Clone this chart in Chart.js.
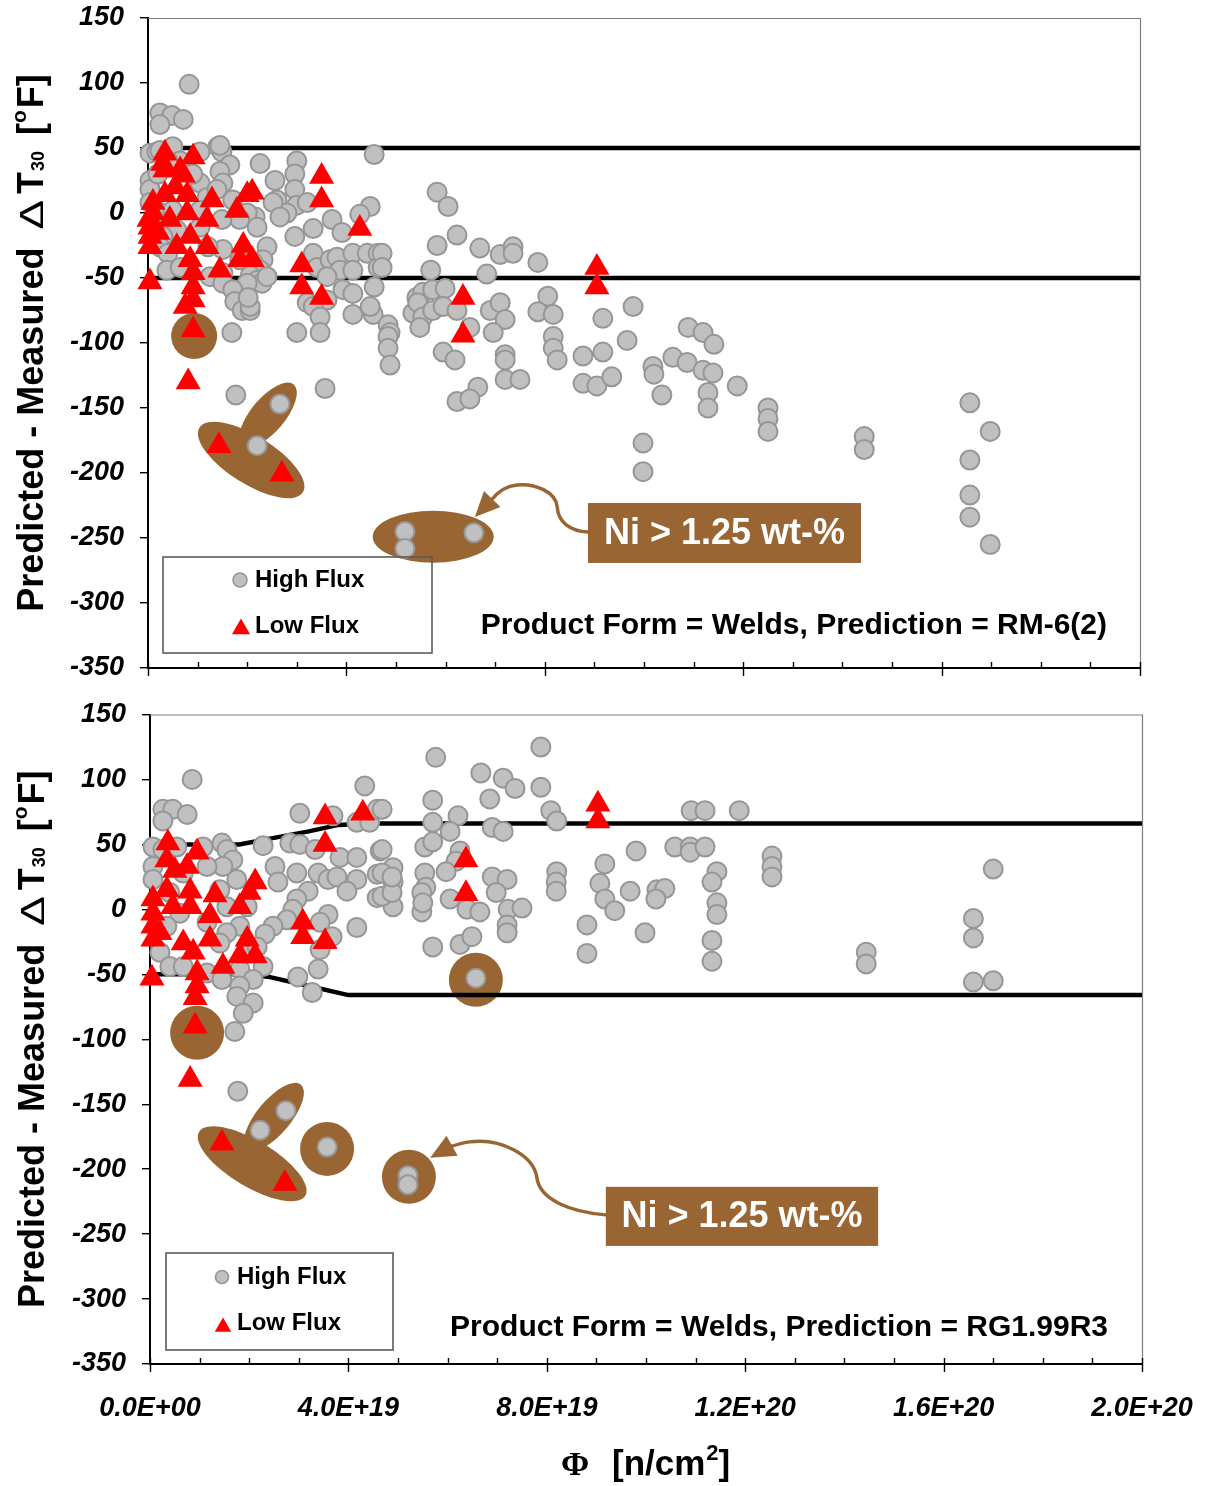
<!DOCTYPE html>
<html>
<head>
<meta charset="utf-8">
<title>Predicted - Measured ΔT30 vs fluence, welds</title>
<script src="https://cdn.jsdelivr.net/npm/chart.js@4.4.1/dist/chart.umd.min.js"></script>
<style>
  html, body { margin: 0; padding: 0; background: #ffffff; }
  #wrap { position: relative; width: 1206px; height: 1486px; }
  #wrap canvas { position: absolute; left: 0; display: block; }
</style>
</head>
<body>
<div id="wrap">
  <canvas id="rm6" width="1206" height="700" style="top:0px"></canvas>
  <canvas id="rg199" width="1206" height="786" style="top:700px"></canvas>
</div>
<script>
// Fluence in units of 1E19 n/cm^2, residual (predicted - measured) in degF.

// --- Prediction = RM-6(2) ---
const rm6HighFlux = [
  [0.24,77],[0.48,75],[0.24,68],[0.71,72],[0.83,99],
  [0.04,46],[0.18,47],[0.24,48],[0.50,51],[1.05,47],[1.41,51],[1.49,47],[1.45,52],[1.65,37],[2.26,38],
  [2.56,25],[3.00,40],[2.96,30],[4.56,45],
  [1.45,32],[1.51,23],[1.05,23],[1.19,12],[1.39,18],[0.04,25],[0.04,18],[0.04,8],[0.18,2],[0.50,2],
  [1.05,2],[2.60,10],[2.96,18],[3.00,6],[2.80,0],[3.21,8],[2.52,8],[2.66,-3],[2.16,-3],[4.48,5],
  [4.27,-1],[3.71,-5],[1.71,10],[2.00,0],[0.65,40],[0.40,40],[0.90,30],[0.20,30],
  [2.20,-11],[1.85,-5],[1.49,-5],[1.05,-11],[0.58,-13],[0.30,-18],[0.24,-26],[3.33,-12],[3.91,-15],
  [2.96,-18],[2.40,-26],[2.32,-36],[1.85,-36],[1.51,-28],[1.21,-26],[0.40,-31],[0.38,-44],[0.65,-42],
  [3.33,-31],[3.41,-42],[3.67,-36],[3.81,-34],[4.13,-31],[4.42,-31],[4.64,-31],[3.87,-44],[4.13,-44],
  [4.64,-42],[2.12,-38],[2.26,-44],[1.51,-46],[1.25,-49],[2.06,-48],[4.72,-31],[4.72,-42],
  [2.20,-52],[2.30,-54],[1.51,-54],[2.00,-54],[1.71,-59],[1.75,-68],[1.90,-75],[2.06,-75],[2.06,-72],
  [2.02,-65],[2.40,-49],[3.61,-49],[3.93,-59],[4.56,-57],[4.13,-62],[3.61,-67],[3.21,-69],[3.33,-72],
  [3.47,-80],[4.13,-78],[4.54,-78],[4.48,-72],[4.84,-86],[4.88,-92],[4.84,-95],[4.84,-104],[4.88,-117],
  [5.42,-65],[5.34,-77],[1.69,-92],[3.00,-92],[3.47,-92],
  [1.77,-140],[2.66,-147],[2.20,-179],[3.57,-135],[5.18,-245],[5.18,-258],[6.57,-246],
  [5.83,16],[6.05,5],[6.23,-17],[5.83,-25],[6.69,-27],[7.10,-32],[7.36,-26],[7.36,-31],[7.86,-38],
  [5.70,-44],[6.83,-47],[5.54,-61],[5.74,-59],[5.99,-58],[5.44,-69],[5.54,-80],[5.74,-75],[5.48,-88],
  [5.95,-72],[6.23,-75],[6.90,-75],[7.10,-69],[7.20,-82],[6.96,-92],[6.49,-88],[5.95,-107],[6.19,-113],
  [7.20,-109],[7.20,-113],[6.65,-134],[6.23,-145],[6.49,-143],[7.20,-128],[7.50,-128],[8.06,-64],
  [7.86,-76],[8.17,-78],[8.17,-95],[8.17,-104],[8.25,-113],[8.77,-110],[9.17,-107],[9.17,-81],
  [8.77,-131],[9.05,-133],[9.35,-126],[9.78,-72],[9.66,-98],[10.36,-140],[10.18,-118],[10.20,-124],
  [10.58,-111],[10.89,-88],[11.19,-92],[11.41,-101],[10.87,-115],[11.19,-121],[11.39,-123],
  [11.29,-138],[11.29,-150],[11.88,-133],[12.50,-150],[12.50,-158],[12.50,-168],[9.98,-177],
  [9.98,-199],[14.44,-172],[14.44,-182],[16.57,-146],[16.57,-190],[16.57,-217],[16.57,-234],
  [16.98,-168],[16.98,-255]
];
const rm6LowFlux = [
  [0.34,46],[0.91,43],[0.34,33],[0.65,33],[0.71,29],[0.30,38],[0.55,20],
  [3.50,28],[3.50,10],[4.27,-12],
  [0.34,14],[0.79,14],[1.29,10],[2.10,16],[2.00,14],[1.79,2],
  [0.10,8],[0.10,0],[0.02,-5],[0.04,-11],[0.04,-18],[0.04,-26],[0.20,-15],
  [0.44,-5],[0.79,0],[1.19,-5],[0.85,-18],[0.58,-26],[1.19,-26],[0.85,-36],
  [1.45,-44],[1.92,-25],[1.85,-36],[2.10,-36],
  [0.91,-46],[0.91,-57],[0.91,-67],[0.75,-72],[0.91,-90],[0.04,-53],
  [3.10,-40],[3.10,-57],[3.50,-65],
  [0.81,-130],[1.43,-179],[2.70,-201],
  [9.05,-42],[9.05,-57],[6.35,-65],[6.35,-94]
];
const rm6UpperBound = [[0,50],[20,50]];
const rm6LowerBound = [[0,-50],[20,-50]];

// --- Prediction = RG1.99R3 ---
const rg199HighFlux = [
  [0.85,100],[0.26,77],[0.46,77],[0.75,73],[0.26,68],
  [0.06,48],[0.26,46],[0.54,48],[1.07,48],[1.45,51],[1.55,46],[1.67,38],[1.47,33],[2.28,49],[2.82,51],
  [3.02,50],[3.33,46],[3.02,74],[3.69,72],[4.17,67],[4.43,67],[4.58,77],[4.33,95],[4.68,77],
  [2.52,33],[2.58,21],[2.96,28],[3.19,14],[2.96,8],[3.39,28],[3.59,23],[3.77,25],[3.83,40],[4.17,40],
  [4.64,45],[4.17,23],[3.97,14],[4.58,27],[4.90,32],[4.90,21],[4.58,9],[4.90,2],[4.68,46],[4.68,28],
  [4.68,10],[4.88,13],
  [0.06,33],[0.06,23],[0.40,13],[0.67,28],[1.15,33],[1.75,23],[1.41,15],[1.55,2],[1.96,2],[0.60,-3],
  [2.88,0],[2.76,-8],
  [3.59,-4],[3.43,-10],[3.67,-21],[3.43,-31],[3.39,-46],[2.98,-52],[3.27,-64],[4.17,-14],
  [2.48,-13],[2.32,-19],[1.81,-13],[1.55,-18],[1.41,-26],[1.15,-10],[0.34,-13],[0.20,-33],[0.40,-44],
  [0.67,-44],[1.15,-49],[1.45,-54],[1.81,-46],[2.06,-29],[2.16,-29],[2.28,-44],[2.08,-54],[1.81,-59],
  [1.75,-67],[2.08,-72],[1.88,-80],[1.71,-94],
  [1.77,-140],[2.74,-155],[2.22,-170],[3.57,-183],[5.20,-205],[5.20,-212],[6.57,-53],
  [5.76,117],[7.88,125],[6.67,105],[7.12,101],[7.36,93],[7.88,94],[5.70,84],[6.85,85],[8.08,76],
  [8.20,68],[6.21,72],[5.70,67],[6.05,60],[6.90,63],[7.12,60],[5.54,48],[5.70,52],[6.25,45],[6.17,37],
  [5.97,29],[5.54,28],[5.56,17],[5.48,-2],[6.05,8],[6.39,0],[6.65,-2],[6.90,25],[7.20,23],[6.98,13],
  [7.22,0],[7.50,1],[7.20,-12],[7.20,-18],[5.70,-29],[6.25,-27],[6.49,-21],
  [8.20,29],[8.19,21],[8.19,14],[8.81,-12],[8.81,-34],[9.17,35],[9.07,20],[9.17,8],[9.37,-1],[9.80,45],
  [9.68,14],[9.98,-18],[10.22,15],[10.38,16],[10.20,8],[10.58,48],[10.89,48],[10.89,44],[11.19,48],
  [10.91,76],[11.19,76],[11.88,76],[11.43,29],[11.33,21],[11.43,5],[11.43,-4],[11.33,-24],[11.33,-40],
  [12.54,41],[12.54,33],[12.54,25],[14.44,-33],[14.44,-42],[16.60,-7],[16.60,-22],[16.60,-56],
  [17.00,31],[17.00,-55],
  [4.88,25],[5.48,13],[5.50,5]
];
const rg199LowFlux = [
  [0.36,51],[0.95,44],[0.34,38],[0.75,33],[0.50,30],[0.34,15],[0.81,14],[1.31,11],[2.12,21],[2.00,13],
  [1.81,2],[1.21,-5],
  [0.06,8],[0.06,-3],[0.06,-13],[0.06,-23],[0.20,-18],[0.46,2],[0.81,2],[0.67,-26],[1.21,-23],[0.87,-33],
  [1.96,-23],[1.81,-36],[2.12,-36],[1.47,-44],[0.95,-49],[0.95,-59],[0.91,-68],[0.91,-90],[0.81,-131],
  [0.04,-53],
  [3.08,-10],[3.08,-21],[3.53,-25],[3.53,71],[3.53,50],[4.29,74],
  [1.45,-180],[2.72,-211],[9.03,81],[9.03,68],[6.37,38],[6.37,12]
];
const rg199UpperBound = [[0,50],[1.8,50],[2.5,55],[3.2,60],[3.8,65],[4.4,66],[20,66]];
const rg199LowerBound = [[0,-50],[2.0,-50],[2.4,-52],[3.2,-59],[4.0,-66],[20,-66]];

// Axis tick labels
const fluenceTickLabels = ['0.0E+00', '4.0E+19', '8.0E+19', '1.2E+20', '1.6E+20', '2.0E+20'];
const residualTickValues = [-350, -300, -250, -200, -150, -100, -50, 0, 50, 100, 150];

const FONT = "'Liberation Sans', Arial, Helvetica, sans-serif";
const BROWN = '#996633';

const toXY = arr => arr.map(([x, y]) => ({ x, y }));

// Callout shapes, anchored in data units (fluence 1E19, degF)
const rm6Notes = {
  circles: [{ x: 0.93, y: -94.6, r: 23 }],
  ellipses: [
    { x: 2.08, y: -190, a: 61, b: 24, rot: 32 },
    { x: 2.42, y: -155.4, a: 40, b: 17, rot: -50 },
    { x: 5.75, y: -249, a: 60.5, b: 26, rot: 0 }
  ],
  arrow: {
    start: [8.87, -245.4],
    curves: [
      [8.51, -244.6, 8.27, -237.7, 8.25, -226.2],
      [8.23, -214.6, 7.80, -207.7, 7.44, -209.2],
      [7.20, -210, 7.02, -216.2, 6.94, -220]
    ],
    tip: [6.59, -233.8]
  },
  box: { x0: 8.87, x1: 14.375, y0: -223.1, y1: -269.2, text: 'Ni > 1.25 wt-%' }
};
const rg199Notes = {
  circles: [
    { x: 0.95, y: -95, r: 27 },
    { x: 6.57, y: -54.2, r: 27 },
    { x: 3.57, y: -184.4, r: 27 },
    { x: 5.22, y: -205.9, r: 27 }
  ],
  ellipses: [
    { x: 2.06, y: -195.9, a: 62, b: 23, rot: 31 },
    { x: 2.50, y: -159.7, a: 42, b: 17, rot: -50 }
  ],
  arrow: {
    start: [9.19, -235.2],
    curves: [
      [8.47, -232.9, 7.86, -223.6, 7.80, -206.7],
      [7.74, -189, 7.06, -175.9, 6.45, -179],
      [6.29, -179.7, 6.17, -181.3, 6.05, -182.8]
    ],
    tip: [5.65, -191.3]
  },
  box: { x0: 9.19, x1: 14.68, y0: -213.6, y1: -259.1, text: 'Ni > 1.25 wt-%' }
};

function drawNotes(chart, n) {
  const ctx = chart.ctx;
  const xs = chart.scales.x, ys = chart.scales.y;
  const P = (x, y) => [xs.getPixelForValue(x), ys.getPixelForValue(y)];
  ctx.save();
  ctx.fillStyle = BROWN;
  for (const e of n.ellipses) {
    const [cx, cy] = P(e.x, e.y);
    ctx.beginPath();
    ctx.ellipse(cx, cy, e.a, e.b, e.rot * Math.PI / 180, 0, Math.PI * 2);
    ctx.fill();
  }
  for (const c of n.circles) {
    const [cx, cy] = P(c.x, c.y);
    ctx.beginPath();
    ctx.arc(cx, cy, c.r, 0, Math.PI * 2);
    ctx.fill();
  }
  // curved pointer
  ctx.strokeStyle = BROWN;
  ctx.lineWidth = 3.5;
  ctx.lineCap = 'round';
  ctx.beginPath();
  const s = P(n.arrow.start[0], n.arrow.start[1]);
  ctx.moveTo(s[0], s[1]);
  let last = s;
  for (const c of n.arrow.curves) {
    const a = P(c[0], c[1]), b = P(c[2], c[3]), d = P(c[4], c[5]);
    ctx.bezierCurveTo(a[0], a[1], b[0], b[1], d[0], d[1]);
    last = d;
  }
  ctx.stroke();
  const tip = P(n.arrow.tip[0], n.arrow.tip[1]);
  let dx = tip[0] - last[0], dy = tip[1] - last[1];
  const len = Math.hypot(dx, dy);
  dx /= len; dy /= len;
  const hl = 25, hw = 11.5;
  const bx = tip[0] - dx * hl, by = tip[1] - dy * hl;
  ctx.beginPath();
  ctx.moveTo(tip[0], tip[1]);
  ctx.lineTo(bx - dy * hw, by + dx * hw);
  ctx.lineTo(bx + dy * hw, by - dx * hw);
  ctx.closePath();
  ctx.fill();
  // label box
  const p0 = P(n.box.x0, n.box.y0), p1 = P(n.box.x1, n.box.y1);
  ctx.fillRect(p0[0], p0[1], p1[0] - p0[0], p1[1] - p0[1]);
  ctx.fillStyle = '#ffffff';
  ctx.font = `bold 36px ${FONT}`;
  ctx.textAlign = 'center';
  ctx.textBaseline = 'middle';
  ctx.fillText(n.box.text, (p0[0] + p1[0]) / 2, (p0[1] + p1[1]) / 2 + 1);
  ctx.restore();
}

function drawFrame(chart) {
  const { ctx, chartArea: a } = chart;
  ctx.save();
  ctx.strokeStyle = '#7f7f7f';
  ctx.lineWidth = 1.2;
  ctx.beginPath();
  ctx.moveTo(a.left, a.top + 0.5);
  ctx.lineTo(a.right + 0.5, a.top + 0.5);
  ctx.lineTo(a.right + 0.5, a.bottom);
  ctx.stroke();
  ctx.restore();
}

function drawXTicks(chart) {
  const { ctx, chartArea: a } = chart;
  const xs = chart.scales.x;
  ctx.save();
  ctx.strokeStyle = '#000000';
  ctx.lineWidth = 1.4;
  ctx.beginPath();
  for (let v = 0; v <= 20; v++) {
    const X = Math.round(xs.getPixelForValue(v)) + 0.5;
    const major = v % 4 === 0;
    ctx.moveTo(X, a.bottom - 6);
    ctx.lineTo(X, major ? a.bottom + 8 : a.bottom);
  }
  ctx.stroke();
  ctx.restore();
}

function drawMarker(ctx, style, x, y, r) {
  ctx.beginPath();
  if (style === 'circle') {
    ctx.arc(x, y, r, 0, Math.PI * 2);
    ctx.fillStyle = '#c0c0c0';
    ctx.fill();
    ctx.strokeStyle = '#969696';
    ctx.lineWidth = 1.6;
    ctx.stroke();
  } else {
    let rad = 0;
    ctx.moveTo(x + Math.sin(rad) * r, y - Math.cos(rad) * r);
    rad += 2 * Math.PI / 3;
    ctx.lineTo(x + Math.sin(rad) * r, y - Math.cos(rad) * r);
    rad += 2 * Math.PI / 3;
    ctx.lineTo(x + Math.sin(rad) * r, y - Math.cos(rad) * r);
    ctx.closePath();
    ctx.fillStyle = '#ff0000';
    ctx.fill();
  }
}

function drawLegendBox(chart, L) {
  const { ctx, chartArea: a } = chart;
  const x = a.left + L.dx, y = a.bottom - L.dyFromBottom;
  ctx.save();
  ctx.strokeStyle = '#5a5a5a';
  ctx.lineWidth = 1.6;
  ctx.strokeRect(x, y, L.w, L.h);
  drawMarker(ctx, 'circle', x + L.mx, y + L.row1, L.cr);
  drawMarker(ctx, 'triangle', x + L.mx + 1, y + L.row2m, L.tr);
  ctx.fillStyle = '#000000';
  ctx.font = `bold 24px ${FONT}`;
  ctx.textAlign = 'left';
  ctx.textBaseline = 'middle';
  ctx.fillText('High Flux', x + L.tx, y + L.row1);
  ctx.fillText('Low Flux', x + L.tx, y + L.row2t);
  ctx.restore();
}

function drawProductLabel(chart, P) {
  const { ctx, chartArea: a } = chart;
  ctx.save();
  ctx.fillStyle = '#000000';
  ctx.font = `bold 30px ${FONT}`;
  ctx.textAlign = 'right';
  ctx.textBaseline = 'middle';
  ctx.fillText(P.text, a.right - P.dxFromRight, a.bottom - P.dyFromBottom);
  ctx.restore();
}

function drawYTitle(chart, baseX) {
  const { ctx, chartArea: a } = chart;
  const parts = [
    { t: 'Predicted - Measured', f: `bold 36px ${FONT}`, dy: 0 },
    { gap: 18 },
    { t: '\u0394', f: `34px ${FONT}`, dy: 0, sx: 1.3 },
    { gap: 6 },
    { t: 'T', f: `bold 36px ${FONT}`, dy: 0 },
    { gap: 1 },
    { t: '30', f: `bold 18px ${FONT}`, dy: 1 },
    { gap: 16 },
    { t: '[', f: `bold 36px ${FONT}`, dy: 0 },
    { t: 'o', f: `bold 21px ${FONT}`, dy: -17 },
    { gap: 2 },
    { t: 'F]', f: `bold 36px ${FONT}`, dy: 0 }
  ];
  ctx.save();
  let total = 0;
  for (const p of parts) {
    if (p.gap) { p.w = p.gap; } else { ctx.font = p.f; p.w = ctx.measureText(p.t).width * (p.sx || 1); }
    total += p.w;
  }
  const cy = (a.top + a.bottom) / 2;
  ctx.translate(baseX, cy);
  ctx.rotate(-Math.PI / 2);
  ctx.fillStyle = '#000000';
  ctx.textAlign = 'left';
  ctx.textBaseline = 'alphabetic';
  let x = -total / 2;
  for (const p of parts) {
    if (!p.gap) {
      ctx.font = p.f;
      ctx.save();
      ctx.translate(x, p.dy);
      if (p.sx) ctx.scale(p.sx, 1);
      ctx.fillText(p.t, 0, 0);
      ctx.restore();
    }
    x += p.w;
  }
  ctx.restore();
}

function drawXTitle(chart, baseline) {
  const { ctx, chartArea: a } = chart;
  const cx = (a.left + a.right) / 2;
  ctx.save();
  ctx.fillStyle = '#000000';
  ctx.textBaseline = 'alphabetic';
  ctx.textAlign = 'center';
  ctx.font = "bold 34px 'Liberation Serif', 'Times New Roman', serif";
  ctx.fillText('\u03A6', cx - 71, baseline);
  ctx.textAlign = 'left';
  ctx.font = `bold 35px ${FONT}`;
  let x = cx - 34;
  ctx.fillText('[n/cm', x, baseline);
  x += ctx.measureText('[n/cm').width + 1;
  ctx.font = `bold 22px ${FONT}`;
  ctx.fillText('2', x, baseline - 15);
  x += ctx.measureText('2').width;
  ctx.font = `bold 35px ${FONT}`;
  ctx.fillText(']', x, baseline);
  ctx.restore();
}

function panelDecor(spec) {
  return {
    id: 'decor_' + spec.key,
    beforeDatasetsDraw(chart) { drawNotes(chart, spec.notes); },
    afterDatasetsDraw(chart) {
      drawFrame(chart);
      drawLegendBox(chart, spec.legend);
      drawProductLabel(chart, spec.label);
    },
    afterDraw(chart) {
      drawXTicks(chart);
      drawYTitle(chart, spec.titleX);
      if (spec.xTitle) drawXTitle(chart, chart.chartArea.bottom + 111);
    }
  };
}

function fluenceLabel(v) {
  const i = Math.round(v / 4);
  return Math.abs(v - i * 4) < 1e-6 ? fluenceTickLabels[i] : '';
}

function makeChart(canvasId, cfg) {
  const tickFont = { family: FONT, size: 27, weight: 'bold', style: 'italic', lineHeight: 1 };
  return new Chart(document.getElementById(canvasId), {
    type: 'scatter',
    data: {
      datasets: [
        {
          label: 'Low Flux', data: toXY(cfg.low), pointStyle: 'triangle', pointRadius: 14.5,
          backgroundColor: '#ff0000', borderColor: '#ff0000', borderWidth: 0, order: 1, clip: false
        },
        {
          label: 'High Flux', data: toXY(cfg.high), pointStyle: 'circle', pointRadius: 9.5,
          backgroundColor: '#c0c0c0', borderColor: '#969696', borderWidth: 2, order: 2, clip: false
        },
        {
          label: 'upper', data: toXY(cfg.upper), showLine: true, borderColor: '#000000', borderWidth: 4.5,
          pointRadius: 0, tension: 0, fill: false, order: 3, clip: false
        },
        {
          label: 'lower', data: toXY(cfg.lower), showLine: true, borderColor: '#000000', borderWidth: 4.5,
          pointRadius: 0, tension: 0, fill: false, order: 3, clip: false
        }
      ]
    },
    options: {
      responsive: false,
      animation: false,
      events: [],
      layout: { padding: cfg.padding },
      plugins: { legend: { display: false }, tooltip: { enabled: false } },
      scales: {
        x: {
          type: 'linear', min: 0, max: 20,
          afterFit: s => { s.height = cfg.xHeight; s.paddingLeft = 0; s.paddingRight = 0; },
          grid: { display: false, drawTicks: false },
          border: { display: true, color: '#000000', width: 2 },
          ticks: {
            display: cfg.showXLabels, stepSize: 4, autoSkip: false, maxRotation: 0,
            color: '#000000', font: tickFont, padding: 31, callback: fluenceLabel
          }
        },
        y: {
          type: 'linear', min: residualTickValues[0], max: residualTickValues[residualTickValues.length - 1],
          afterFit: s => { s.width = cfg.yWidth; s.paddingTop = 0; s.paddingBottom = 0; },
          grid: { display: true, drawOnChartArea: false, drawTicks: true, tickLength: 8, color: '#000000', lineWidth: 1.4 },
          border: { display: true, color: '#000000', width: 2 },
          ticks: { stepSize: 50, color: '#000000', font: tickFont, padding: 16 }
        }
      }
    },
    plugins: [panelDecor(cfg.decor)]
  });
}

makeChart('rm6', {
  high: rm6HighFlux, low: rm6LowFlux, upper: rm6UpperBound, lower: rm6LowerBound,
  padding: { left: 0, top: 18, right: 66, bottom: 0 },
  xHeight: 32, yWidth: 148, showXLabels: false,
  decor: {
    key: 'rm6', notes: rm6Notes, titleX: 43, xTitle: false,
    legend: { dx: 15, dyFromBottom: 111, w: 269, h: 96, mx: 77, tx: 92, row1: 23, row2m: 72, row2t: 69, cr: 7, tr: 10.5 },
    label: { text: 'Product Form = Welds, Prediction = RM-6(2)', dxFromRight: 33, dyFromBottom: 42 }
  }
});

makeChart('rg199', {
  high: rg199HighFlux, low: rg199LowFlux, upper: rg199UpperBound, lower: rg199LowerBound,
  padding: { left: 0, top: 14, right: 64, bottom: 0 },
  xHeight: 122, yWidth: 150, showXLabels: true,
  decor: {
    key: 'rg199', notes: rg199Notes, titleX: 44, xTitle: true,
    legend: { dx: 16, dyFromBottom: 111, w: 227, h: 97, mx: 56, tx: 71, row1: 24, row2m: 74, row2t: 70, cr: 6.5, tr: 9.5 },
    label: { text: 'Product Form = Welds, Prediction = RG1.99R3', dxFromRight: 34, dyFromBottom: 36 }
  }
});
</script>
</body>
</html>
